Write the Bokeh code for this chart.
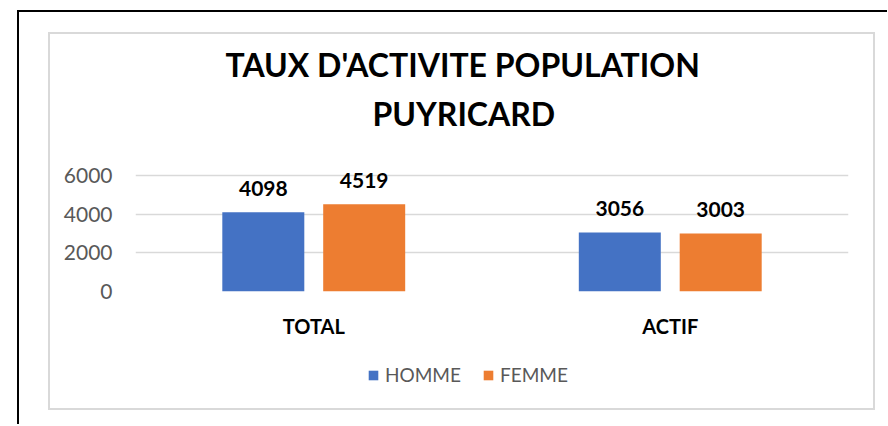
from bokeh.plotting import figure
from bokeh.models import (ColumnDataSource, FactorRange, Range1d, FixedTicker, Legend,
                          LegendItem, Title)
from bokeh.layouts import column
from bokeh.transform import dodge
from bokeh.core.properties import value
from bokeh.embed import file_html
from bokeh.resources import INLINE

categories = ["TOTAL", "ACTIF"]
series = ["HOMME", "FEMME"]
homme = [4098, 3056]
femme = [4519, 3003]
y_ticks = [0, 2000, 4000, 6000]
colors = ["#4472C4", "#ED7D31"]

FONT = "Lato"

src = ColumnDataSource(dict(
    cat=categories, homme=homme, femme=femme,
    homme_lbl=[str(v) for v in homme], femme_lbl=[str(v) for v in femme],
))

fig = figure(frame_width=713, frame_height=151, x_range=FactorRange(*categories),
             y_range=Range1d(0, 7810), output_backend="svg", toolbar_location=None,
             min_border_left=85, min_border_right=25, min_border_top=106,
             min_border_bottom=60)
fig.title.visible = False

b1 = fig.vbar(x=dodge("cat", -0.1415, range=fig.x_range), top="homme", width=0.23,
              source=src, fill_color=colors[0], line_color=None)
b2 = fig.vbar(x=dodge("cat", 0.1415, range=fig.x_range), top="femme", width=0.23,
              source=src, fill_color=colors[1], line_color=None)

for xo, col in [(-0.1415, "homme"), (0.1415, "femme")]:
    fig.text(x=dodge("cat", xo, range=fig.x_range), y=col, text=col + "_lbl", source=src,
             text_align="center", text_baseline="alphabetic", y_offset=-24,
             text_font=value(FONT), text_font_style="bold", text_font_size="21px",
             text_color="black")

fig.xgrid.grid_line_color = None
fig.ygrid.grid_line_color = "#D9D9D9"
fig.ygrid.grid_line_width = 1.5
fig.outline_line_color = None

fig.yaxis.ticker = FixedTicker(ticks=y_ticks)
fig.yaxis.axis_line_color = None
fig.yaxis.major_tick_line_color = None
fig.yaxis.minor_tick_line_color = None
fig.yaxis.major_label_standoff = 17
fig.yaxis.major_label_text_font = FONT
fig.yaxis.major_label_text_font_size = "21px"
fig.yaxis.major_label_text_color = "#595959"

fig.xaxis.axis_line_color = None
fig.xaxis.major_tick_line_color = None
fig.xaxis.major_label_standoff = 16
fig.xaxis.major_label_text_font = FONT
fig.xaxis.major_label_text_font_style = "bold"
fig.xaxis.major_label_text_font_size = "20px"
fig.xaxis.major_label_text_color = "black"

fig.add_layout(Title(text="PUYRICARD", align="left", offset=237, standoff=15,
                     text_font=FONT, text_font_size="32px", text_font_style="bold",
                     text_color="black"), "above")
fig.add_layout(Title(text="TAUX D'ACTIVITE POPULATION", align="left", offset=90,
                     standoff=2, text_font=FONT, text_font_size="32px",
                     text_font_style="bold", text_color="black"), "above")

# legend strip below the chart (its bars lie far outside its view; only the legend shows)
leg = figure(width=823, height=57, x_range=FactorRange(*categories),
             y_range=Range1d(100000, 100001), output_backend="svg",
             toolbar_location=None, min_border=0)
leg.title.visible = False
leg.axis.visible = False
leg.grid.visible = False
leg.outline_line_color = None
r1 = leg.vbar(x=dodge("cat", -0.1415, range=leg.x_range), top="homme", width=0.23,
              source=src, fill_color=colors[0], line_color=None)
r2 = leg.vbar(x=dodge("cat", 0.1415, range=leg.x_range), top="femme", width=0.23,
              source=src, fill_color=colors[1], line_color=None)
legend = Legend(items=[LegendItem(label=series[0], renderers=[r1]),
                       LegendItem(label=series[1], renderers=[r2])],
                orientation="horizontal", location=(232, 22),
                border_line_color=None, background_fill_alpha=0,
                glyph_width=12, glyph_height=12, label_text_font=FONT,
                label_text_font_size="19px", label_text_color="#595959",
                spacing=21, label_standoff=6, margin=0, padding=0)
leg.add_layout(legend)

inner = column(fig, leg, spacing=0, styles={"border": "2px solid #D9D9D9"})
p = column(inner, styles={"margin-left": "17px", "margin-top": "10px",
                          "border-top": "2px solid black", "border-left": "2px solid black",
                          "padding-left": "29px", "padding-top": "20px",
                          "padding-right": "12px", "padding-bottom": "14px"})

open("out.html", "w").write(file_html(p, INLINE))
